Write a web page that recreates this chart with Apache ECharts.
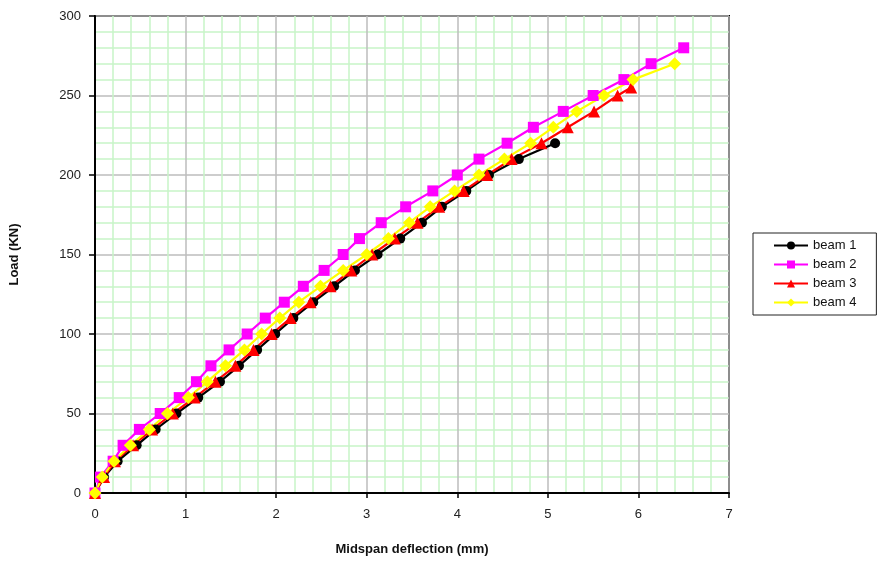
<!DOCTYPE html>
<html>
<head>
<meta charset="utf-8">
<script src="https://cdn.jsdelivr.net/npm/echarts@6/dist/echarts.min.js"></script>
<style>
  html, body { margin: 0; padding: 0; background: #fff; overflow: hidden; }
  #chart { width: 877px; height: 561px; }
</style>
</head>
<body>
<div id="chart"></div>
<script>
// Load steps (kN) recorded for each beam
const beam1Load = [0,10,20,30,40,50,60,70,80,90,100,110,120,130,140,150,160,170,180,190,200,210,220];
const beam2Load = [0,10,20,30,40,50,60,70,80,90,100,110,120,130,140,150,160,170,180,190,200,210,220,230,240,250,260,270,280];
const beam3Load = [0,10,20,30,40,50,60,70,80,90,100,110,120,130,140,150,160,170,180,190,200,210,220,230,240,250,255];
const beam4Load = [0,10,20,30,40,50,60,70,80,90,100,110,120,130,140,150,160,170,180,190,200,210,220,230,240,250,260,270];

// Midspan deflection (mm) at each load step
const beam1Defl = [0,0.10,0.25,0.46,0.67,0.90,1.14,1.38,1.59,1.79,1.99,2.19,2.41,2.64,2.87,3.12,3.37,3.61,3.83,4.10,4.35,4.68,5.08];
const beam2Defl = [0,0.06,0.20,0.31,0.49,0.72,0.93,1.12,1.28,1.48,1.68,1.88,2.09,2.30,2.53,2.74,2.92,3.16,3.43,3.73,4.00,4.24,4.55,4.84,5.17,5.50,5.84,6.14,6.50];
const beam3Defl = [0,0.10,0.22,0.42,0.63,0.86,1.10,1.33,1.55,1.75,1.95,2.16,2.38,2.60,2.83,3.06,3.31,3.56,3.80,4.07,4.33,4.60,4.93,5.22,5.51,5.77,5.92];
const beam4Defl = [0,0.08,0.21,0.39,0.60,0.80,1.03,1.24,1.44,1.65,1.84,2.04,2.25,2.49,2.74,3.00,3.24,3.47,3.70,3.97,4.24,4.52,4.81,5.06,5.32,5.62,5.94,6.40];

// Axis ranges and tick labels
const xTicks = [0,1,2,3,4,5,6,7];
const yTicks = [0,50,100,150,200,250,300];

const pair = (xs, ys) => xs.map((x, i) => [x, ys[i]]);

const FONT = 'Liberation Sans, Arial, sans-serif';

const chart = echarts.init(document.getElementById('chart'), null, { renderer: 'canvas', width: 877, height: 561 });

function lineSeries(name, xs, ys, color, symbol, size) {
  return {
    name,
    type: 'line',
    data: pair(xs, ys),
    symbol,
    symbolSize: size,
    showAllSymbol: true,
    lineStyle: { color, width: 2.2 },
    itemStyle: { color, borderWidth: 0 },
    animation: false,
    emphasis: { disabled: true }
  };
}

chart.setOption({
  backgroundColor: '#ffffff',
  animation: false,
  grid: {
    left: 92, right: 148, top: 16, bottom: 62,
    show: true,
    borderColor: '#000',
    borderWidth: 2
  },
  legend: {
    orient: 'vertical',
    left: 753,
    top: 233,
    width: 124,
    padding: [6, 20, 6, 20],
    itemGap: 6,
    itemWidth: 34,
    itemHeight: 10,
    borderColor: '#222',
    borderWidth: 1,
    textStyle: { fontFamily: FONT, fontSize: 13, color: '#111' },
    data: ['beam 1', 'beam 2', 'beam 3', 'beam 4']
  },
  xAxis: {
    type: 'value',
    min: xTicks[0],
    max: xTicks[xTicks.length - 1],
    interval: 1,
    name: 'Midspan deflection (mm)',
    nameLocation: 'middle',
    nameGap: 50,
    nameTextStyle: { fontFamily: FONT, fontSize: 13, fontWeight: 'bold', color: '#111' },
    axisLine: { lineStyle: { color: '#000', width: 2 } },
    axisTick: { show: true, length: 5, lineStyle: { color: '#000', width: 1.5 } },
    axisLabel: { margin: 15, fontFamily: FONT, fontSize: 13, color: '#222' },
    splitLine: { show: true, lineStyle: { color: '#bdbdbd', width: 1.5 } },
    minorTick: { show: false, splitNumber: 5 },
    minorSplitLine: { show: true, lineStyle: { color: '#c8f5c8', width: 1.5 } }
  },
  yAxis: {
    type: 'value',
    min: yTicks[0],
    max: yTicks[yTicks.length - 1],
    interval: 50,
    name: 'Load (KN)',
    nameLocation: 'middle',
    nameGap: 74,
    nameRotate: 90,
    nameTextStyle: { fontFamily: FONT, fontSize: 13, fontWeight: 'bold', color: '#111' },
    axisLine: { show: true, lineStyle: { color: '#000', width: 2 } },
    axisTick: { show: true, length: 6, lineStyle: { color: '#000', width: 1.5 } },
    axisLabel: { margin: 14, fontFamily: FONT, fontSize: 13, color: '#222' },
    splitLine: { show: true, lineStyle: { color: '#bdbdbd', width: 1.5 } },
    minorTick: { show: false, splitNumber: 5 },
    minorSplitLine: { show: true, lineStyle: { color: '#c8f5c8', width: 1.5 } }
  },
  series: [
    lineSeries('beam 1', beam1Defl, beam1Load, '#000000', 'circle', 10),
    lineSeries('beam 2', beam2Defl, beam2Load, '#ff00ff', 'rect', 11),
    lineSeries('beam 3', beam3Defl, beam3Load, '#ff0000', 'triangle', 12),
    lineSeries('beam 4', beam4Defl, beam4Load, '#ffff00', 'diamond', 13)
  ]
});
</script>
</body>
</html>
